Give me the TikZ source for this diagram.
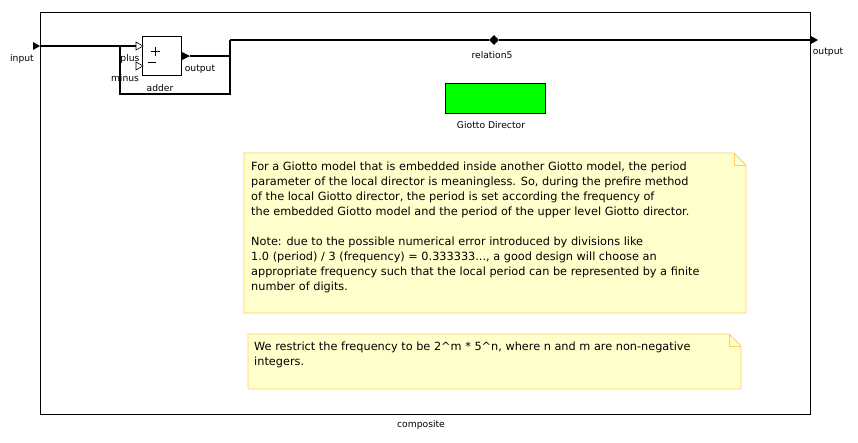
\documentclass[tikz,border=0pt]{standalone}
\usepackage{fontspec}
\setmainfont{DejaVu Sans}
\usetikzlibrary{shapes.geometric}
\definecolor{notefill}{RGB}{255,255,204}
\definecolor{noteborder}{RGB}{255,204,102}
\definecolor{dirgreen}{RGB}{0,255,0}
\begin{document}
\begin{tikzpicture}[x=1pt,y=-1pt,
  lbl/.style={font=\fontsize{9.2}{10}\selectfont, inner sep=0pt},
  wire/.style={line width=1.8pt},
  porttri/.style={fill=black},
  openport/.style={draw=black, fill=white, line width=0.6pt},
  signline/.style={line width=0.7pt},
  notebox/.style={draw=noteborder, fill=notefill, line width=0.8pt},
  notetext/.style={font=\fontsize{11.3}{15}\selectfont, align=left, anchor=north west, inner sep=0pt}]
\useasboundingbox (0,0) rectangle (858,442);
\fill[white] (0,0) rectangle (858,442);

% composite
\node[draw, line width=0.8pt, minimum width=770pt, minimum height=402pt, anchor=north west, inner sep=0pt] (composite) at (40,12) {};
\node[lbl] (complbl) at (421,425) {composite};

% external ports
\coordinate (in) at (40,46);
\coordinate (out) at (810,40);
\fill[porttri] (33,42) -- (in) -- (33,50) -- cycle;
\fill[porttri] (out) ++(0,-4.5) -- ++(8,4.5) -- ++(-8,4.5) -- cycle;
\node[lbl] (inlbl) at (22,59) {input};
\node[lbl] (outlbl) at (828,52) {output};

% adder
\node[draw, line width=0.6pt, minimum width=39pt, minimum height=39pt, anchor=north west, inner sep=0pt] (adder) at (142,36) {};
\draw[signline] (150.5,51.5) -- (160,51.5) (155.25,47) -- (155.25,56);
\draw[signline] (148,62) -- (156,62);
\coordinate (plusin) at (136,46);
\coordinate (minusin) at (136,66);
\coordinate (addout) at (190,56);
\draw[openport] (136,42) -- (143,46) -- (136,50) -- cycle;
\draw[openport] (136,62) -- (143,66) -- (136,70) -- cycle;
\fill[porttri] (182,52) -- (addout) -- (182,60) -- cycle;
\node[lbl] (pluslbl) at (130,59) {plus};
\node[lbl] (minuslbl) at (125,78) {minus};
\node[lbl] (adderlbl) at (160,88) {adder};
\node[lbl] (addoutlbl) at (200,69) {output};

% wires
\coordinate (b1) at (120,46);
\coordinate (b2) at (230,40);
\node[diamond, fill=black, inner sep=0pt, minimum size=10pt] (rel5) at (494,40) {};
\node[lbl] (rel5lbl) at (492,55) {relation5};
\draw[wire] (in) -- (plusin);
\draw[wire] (b1) -- (120,94) -- (230,94) -- (b2);
\draw[wire] (addout) -- (230,56);
\draw[wire] (b2) -- (rel5) -- (out);

% director
\node[draw, fill=dirgreen, line width=0.6pt, minimum width=100pt, minimum height=30pt, anchor=north west, inner sep=0pt] (director) at (445,83) {};
\node[lbl] (dirlbl) at (491,125) {Giotto Director};

% note 1
\draw[notebox] (244,153) -- (734,153) -- (746,165) -- (746,313) -- (244,313) -- cycle;
\draw[noteborder, line width=0.8pt] (734,153) -- (734,165) -- (746,165);
\node[notetext] (note1) at (251,161.5) {For a Giotto model that is embedded inside another Giotto model, the period\\
parameter of the local director is meaningless. So, during the prefire method\\
of the local Giotto director, the period is set according the frequency of\\
the embedded Giotto model and the period of the upper level Giotto director.\\
~\\
Note: due to the possible numerical error introduced by divisions like\\
1.0 (period) / 3 (frequency) = 0.333333..., a good design will choose an\\
appropriate frequency such that the local period can be represented by a finite\\
number of digits.};

% note 2
\draw[notebox] (248,334) -- (729,334) -- (741,346) -- (741,389) -- (248,389) -- cycle;
\draw[noteborder, line width=0.8pt] (729,334) -- (729,346) -- (741,346);
\node[notetext] (note2) at (254,342) {We restrict the frequency to be 2\^{}m * 5\^{}n, where n and m are non-negative\\
integers.};
\end{tikzpicture}
\end{document}
